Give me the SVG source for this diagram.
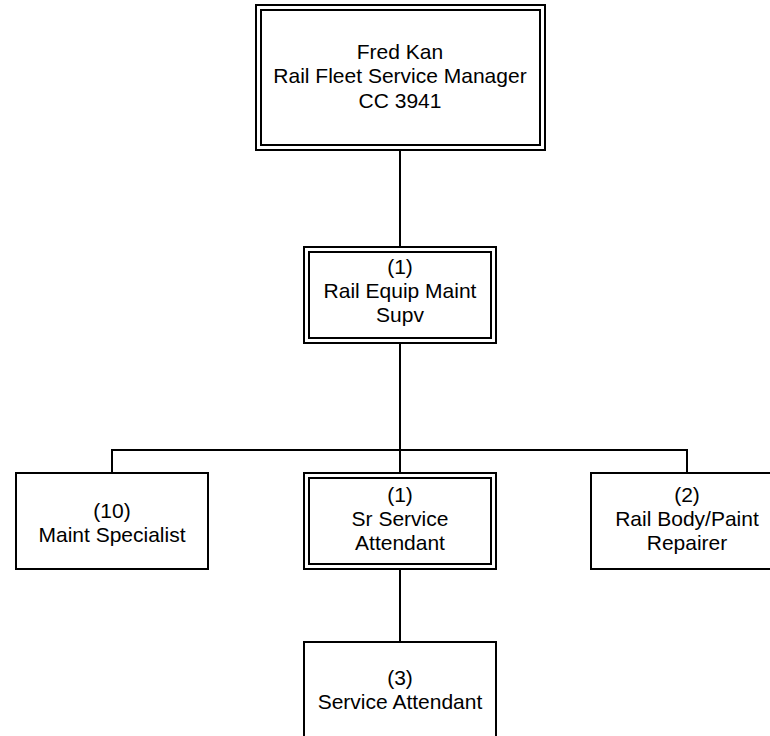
<svg xmlns="http://www.w3.org/2000/svg" width="770" height="736" viewBox="0 0 770 736">
<style>
rect{fill:none;stroke:#000;stroke-width:2}
.bg{fill:#fff;stroke:none}
text{font-family:"Liberation Sans",Arial,sans-serif;font-size:21px;fill:#000;text-anchor:middle}
#connectors path{fill:none;stroke:#000;stroke-width:2}
</style>
<rect class="bg" x="0" y="0" width="770" height="736"/>
<g id="connectors">
<path d="M400 150V246"/>
<path d="M400 343V473"/>
<path d="M112 473V450H687V473"/>
<path d="M400 569V642"/>
</g>
<g id="fred-kan">
<rect x="256" y="5" width="289" height="145"/>
<rect x="261" y="10" width="279" height="135"/>
<text x="400" y="59">Fred Kan</text>
<text x="400" y="83">Rail Fleet Service Manager</text>
<text x="400" y="108">CC 3941</text>
</g>
<g id="rail-equip-maint-supv">
<rect x="304" y="247" width="192" height="96"/>
<rect x="309" y="252" width="182" height="86"/>
<text x="400" y="274">(1)</text>
<text x="400" y="298">Rail Equip Maint</text>
<text x="400" y="322">Supv</text>
</g>
<g id="maint-specialist">
<rect x="16" y="473" width="192" height="96"/>
<text x="112" y="518">(10)</text>
<text x="112" y="542">Maint Specialist</text>
</g>
<g id="sr-service-attendant">
<rect x="304" y="473" width="192" height="96"/>
<rect x="309" y="478" width="182" height="86"/>
<text x="400" y="502">(1)</text>
<text x="400" y="526">Sr Service</text>
<text x="400" y="550">Attendant</text>
</g>
<g id="rail-body-paint-repairer">
<rect x="591" y="473" width="192" height="96"/>
<text x="687" y="502">(2)</text>
<text x="687" y="526">Rail Body/Paint</text>
<text x="687" y="550">Repairer</text>
</g>
<g id="service-attendant">
<rect x="304" y="642" width="192" height="96"/>
<text x="400" y="685">(3)</text>
<text x="400" y="709">Service Attendant</text>
</g>
</svg>
